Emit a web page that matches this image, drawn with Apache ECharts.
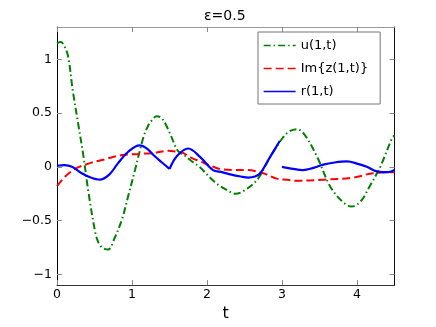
<!DOCTYPE html>
<html>
<head>
<meta charset="utf-8">
<script src="https://cdn.jsdelivr.net/npm/echarts@6/dist/echarts.min.js"></script>
<style>html,body{margin:0;padding:0;background:#fff}#c{width:436px;height:327px}</style>
</head>
<body>
<div id="c"></div>
<script>
const titleText = 'ε=0.5';
const seriesNames = ['u(1,t)', 'Im{z(1,t)}', 'r(1,t)'];
const xTicks = [0, 1, 2, 3, 4];
const yTicks = [-1, -0.5, 0, 0.5, 1];

const uT = [0, 0.05, 0.1, 0.15, 0.21, 0.28, 0.35, 0.42, 0.51, 0.55, 0.6, 0.68, 0.77, 0.87, 0.95, 1.04, 1.15, 1.2, 1.25, 1.33, 1.4, 1.5, 1.61, 1.71, 1.8, 1.9, 2.1, 2.25, 2.38, 2.5, 2.67, 2.84, 3.01, 3.1, 3.2, 3.3, 3.47, 3.64, 3.8, 3.93, 4.05, 4.17, 4.31, 4.47, 4.5];
const uV = [1.15, 1.16, 1.12, 1.02, 0.71, 0.41, 0.11, -0.24, -0.61, -0.70, -0.75, -0.77, -0.66, -0.48, -0.27, -0.03, 0.27, 0.36, 0.42, 0.47, 0.45, 0.32, 0.15, 0.10, 0.05, 0.0, -0.14, -0.21, -0.25, -0.22, -0.12, 0.09, 0.27, 0.33, 0.35, 0.30, 0.09, -0.18, -0.32, -0.37, -0.32, -0.18, 0.0, 0.27, 0.29];

const zT = [0, 0.11, 0.24, 0.42, 0.64, 0.87, 1.1, 1.31, 1.48, 1.61, 1.68, 1.8, 1.91, 2.05, 2.17, 2.35, 2.53, 2.75, 2.93, 3.07, 3.2, 3.55, 3.95, 4.21, 4.5];
const zV = [-0.18, -0.09, -0.02, 0.03, 0.07, 0.11, 0.12, 0.13, 0.15, 0.14, 0.13, 0.08, 0.05, 0.01, -0.02, -0.03, -0.03, -0.06, -0.11, -0.12, -0.13, -0.12, -0.10, -0.06, -0.05];

const r1T = [0, 0.1, 0.2, 0.33, 0.45, 0.57, 0.7, 0.81, 0.95, 1.1, 1.2, 1.3, 1.4, 1.5];
const r1V = [0.01, 0.015, 0.0, -0.06, -0.10, -0.12, -0.07, 0.03, 0.14, 0.20, 0.17, 0.10, 0.04, -0.02];
const r2T = [1.5, 1.6, 1.75, 1.91, 2.08, 2.2, 2.31, 2.45, 2.55, 2.64, 2.71, 2.84, 2.97];
const r2V = [-0.02, 0.10, 0.17, 0.09, -0.03, -0.05, -0.07, -0.09, -0.10, -0.09, -0.06, 0.09, 0.24];
const r3T = [3.0, 3.15, 3.28, 3.42, 3.55, 3.7, 3.87, 4.0, 4.13, 4.25, 4.35, 4.42, 4.5];
const r3V = [0.0, -0.02, -0.03, -0.01, 0.02, 0.04, 0.05, 0.03, 0.0, -0.04, -0.05, -0.05, -0.03];

function zip(t, v) { return t.map((x, i) => [x, v[i]]); }
const rData = zip(r1T, r1V).concat([[1.5, null]], zip(r2T, r2V), [[2.985, null]], zip(r3T, r3V));

const fmt = v => String(v).replace('-', '\u2212');
const FONT = 'DejaVu Sans';

const chart = echarts.init(document.getElementById('c'), null, {renderer: 'canvas'});
chart.setOption({
  animation: false,
  backgroundColor: '#fff',
  title: {
    text: titleText, left: 199, top: 4,
    textStyle: {fontFamily: FONT, fontSize: 14, fontWeight: 'normal', color: '#000'}
  },
  grid: {left: 57, right: 41.5, top: 27, bottom: 37, containLabel: false},
  legend: {
    orient: 'vertical', left: 258, top: 32,
    padding: [7, 12, 6, 5], itemGap: 10, itemWidth: 32, itemHeight: 14,
    backgroundColor: '#fff', borderColor: '#777', borderWidth: 1, borderRadius: 0,
    textStyle: {fontFamily: FONT, fontSize: 13, color: '#000', padding: [0, 0, 0, 0]},
    itemStyle: {opacity: 0},
    lineStyle: {width: 1.3},
    data: seriesNames
  },
  xAxis: [{
    type: 'value', min: 0, max: 4.5, position: 'bottom',
    name: 't', nameLocation: 'middle', nameGap: 18,
    nameTextStyle: {fontFamily: FONT, fontSize: 16, color: '#000'},
    axisLine: {onZero: false, lineStyle: {color: '#333', width: 1}},
    axisTick: {inside: true, length: 5, customValues: xTicks, lineStyle: {color: '#888'}},
    axisLabel: {customValues: xTicks, formatter: fmt, fontFamily: FONT, fontSize: 12.5, color: '#000', margin: 3},
    splitLine: {show: false}
  }, {
    type: 'value', min: 0, max: 4.5, position: 'top',
    axisLine: {onZero: false, lineStyle: {color: '#999', width: 1}},
    axisTick: {inside: true, length: 5, customValues: xTicks, lineStyle: {color: '#888'}},
    axisLabel: {show: false}, splitLine: {show: false}
  }],
  yAxis: [{
    type: 'value', min: -1.1, max: 1.3, position: 'left',
    axisLine: {show: true, onZero: false, lineStyle: {color: '#000', width: 1}},
    axisTick: {show: true, inside: true, length: 5, customValues: yTicks, lineStyle: {color: '#888'}},
    axisLabel: {customValues: yTicks, formatter: fmt, fontFamily: FONT, fontSize: 12.5, color: '#000', margin: 5},
    splitLine: {show: false}
  }, {
    type: 'value', min: -1.1, max: 1.3, position: 'right',
    axisLine: {show: true, onZero: false, lineStyle: {color: '#111', width: 1}},
    axisTick: {show: true, inside: true, length: 5, customValues: yTicks, lineStyle: {color: '#888'}},
    axisLabel: {show: false}, splitLine: {show: false}
  }],
  series: [{
    name: seriesNames[0], type: 'line', data: zip(uT, uV), smooth: 0.35,
    showSymbol: false, symbol: 'none',
    lineStyle: {color: '#008000', width: 2, type: [7, 3, 1.5, 3]}, itemStyle: {color: '#008000'}
  }, {
    name: seriesNames[1], type: 'line', data: zip(zT, zV), smooth: 0.35,
    showSymbol: false, symbol: 'none',
    lineStyle: {color: '#ff0000', width: 2, type: [8, 4]}, itemStyle: {color: '#ff0000'}
  }, {
    name: seriesNames[2], type: 'line', data: rData, smooth: 0.35, connectNulls: false,
    showSymbol: false, symbol: 'none',
    lineStyle: {color: '#0000ff', width: 2.2, type: 'solid'}, itemStyle: {color: '#0000ff'}
  }]
});
</script>
</body>
</html>
